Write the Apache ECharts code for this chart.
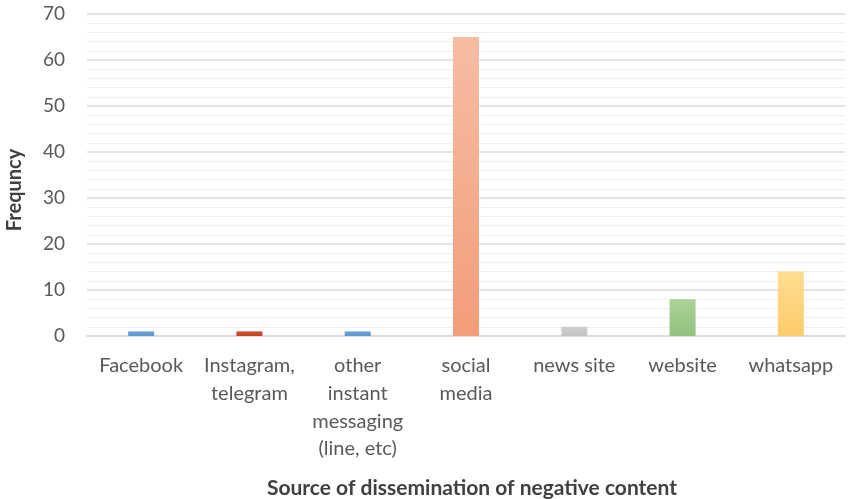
<!DOCTYPE html>
<html><head><meta charset="utf-8">
<script src="https://cdn.jsdelivr.net/npm/echarts@6/dist/echarts.min.js"></script>
<style>html,body{margin:0;padding:0;background:#fff}#c{width:848px;height:499px}</style>
</head><body><div id="c"></div>
<script>
const categories = ["Facebook", "Instagram,\ntelegram", "other\ninstant\nmessaging\n(line, etc)", "social\nmedia", "news site", "website", "whatsapp"];
const values = [1, 1, 1, 65, 2, 8, 14];
const barColors = [
  ["#6fa3d8", "#5b95cf"],
  ["#d0502f", "#c4421f"],
  ["#6fa3d8", "#5b95cf"],
  ["#f6bda3", "#f29d7b"],
  ["#cfcfcf", "#c3c3c3"],
  ["#acd397", "#91c27c"],
  ["#ffdd92", "#fdcb6a"]
];
const yTicks = [0, 10, 20, 30, 40, 50, 60, 70];
const chart = echarts.init(document.getElementById('c'));
const font = 'Lato, "Open Sans", sans-serif';
chart.setOption({
  animation: false,
  grid: {left: 87, right: 3, top: 14, bottom: 163},
  xAxis: {
    type: 'category', data: categories,
    axisLine: {show: true, lineStyle: {color: '#d9d9d9', width: 1.5}},
    axisTick: {show: false},
    axisLabel: {fontFamily: font, fontSize: 20, color: '#595959', lineHeight: 27.7, margin: 16, interval: 0}
  },
  yAxis: {
    type: 'value', min: yTicks[0], max: yTicks[yTicks.length - 1], interval: 10,
    axisLine: {show: false}, axisTick: {show: false},
    axisLabel: {fontFamily: font, fontSize: 19, color: '#595959', margin: 22},
    splitLine: {lineStyle: {color: '#dadada', width: 1.5}},
    minorTick: {show: false, splitNumber: 5},
    minorSplitLine: {show: true, lineStyle: {color: '#efefef', width: 1}}
  },
  series: [{
    type: 'bar', barWidth: 26,
    data: values.map((v, i) => ({
      value: v,
      itemStyle: {color: new echarts.graphic.LinearGradient(0, 0, 0, 1, [
        {offset: 0, color: barColors[i][0]}, {offset: 1, color: barColors[i][1]}])}
    }))
  }],
  graphic: [
    {type: 'text', x: 15, y: 190, rotation: Math.PI / 2,
      style: {text: 'Frequncy', font: 'bold 20px ' + font, fill: '#404040', textAlign: 'center', textVerticalAlign: 'middle'}},
    {type: 'text', x: 472, y: 488,
      style: {text: 'Source of dissemination of negative content', font: 'bold 21px ' + font, fill: '#404040', textAlign: 'center', textVerticalAlign: 'middle'}}
  ]
});
</script></body></html>
